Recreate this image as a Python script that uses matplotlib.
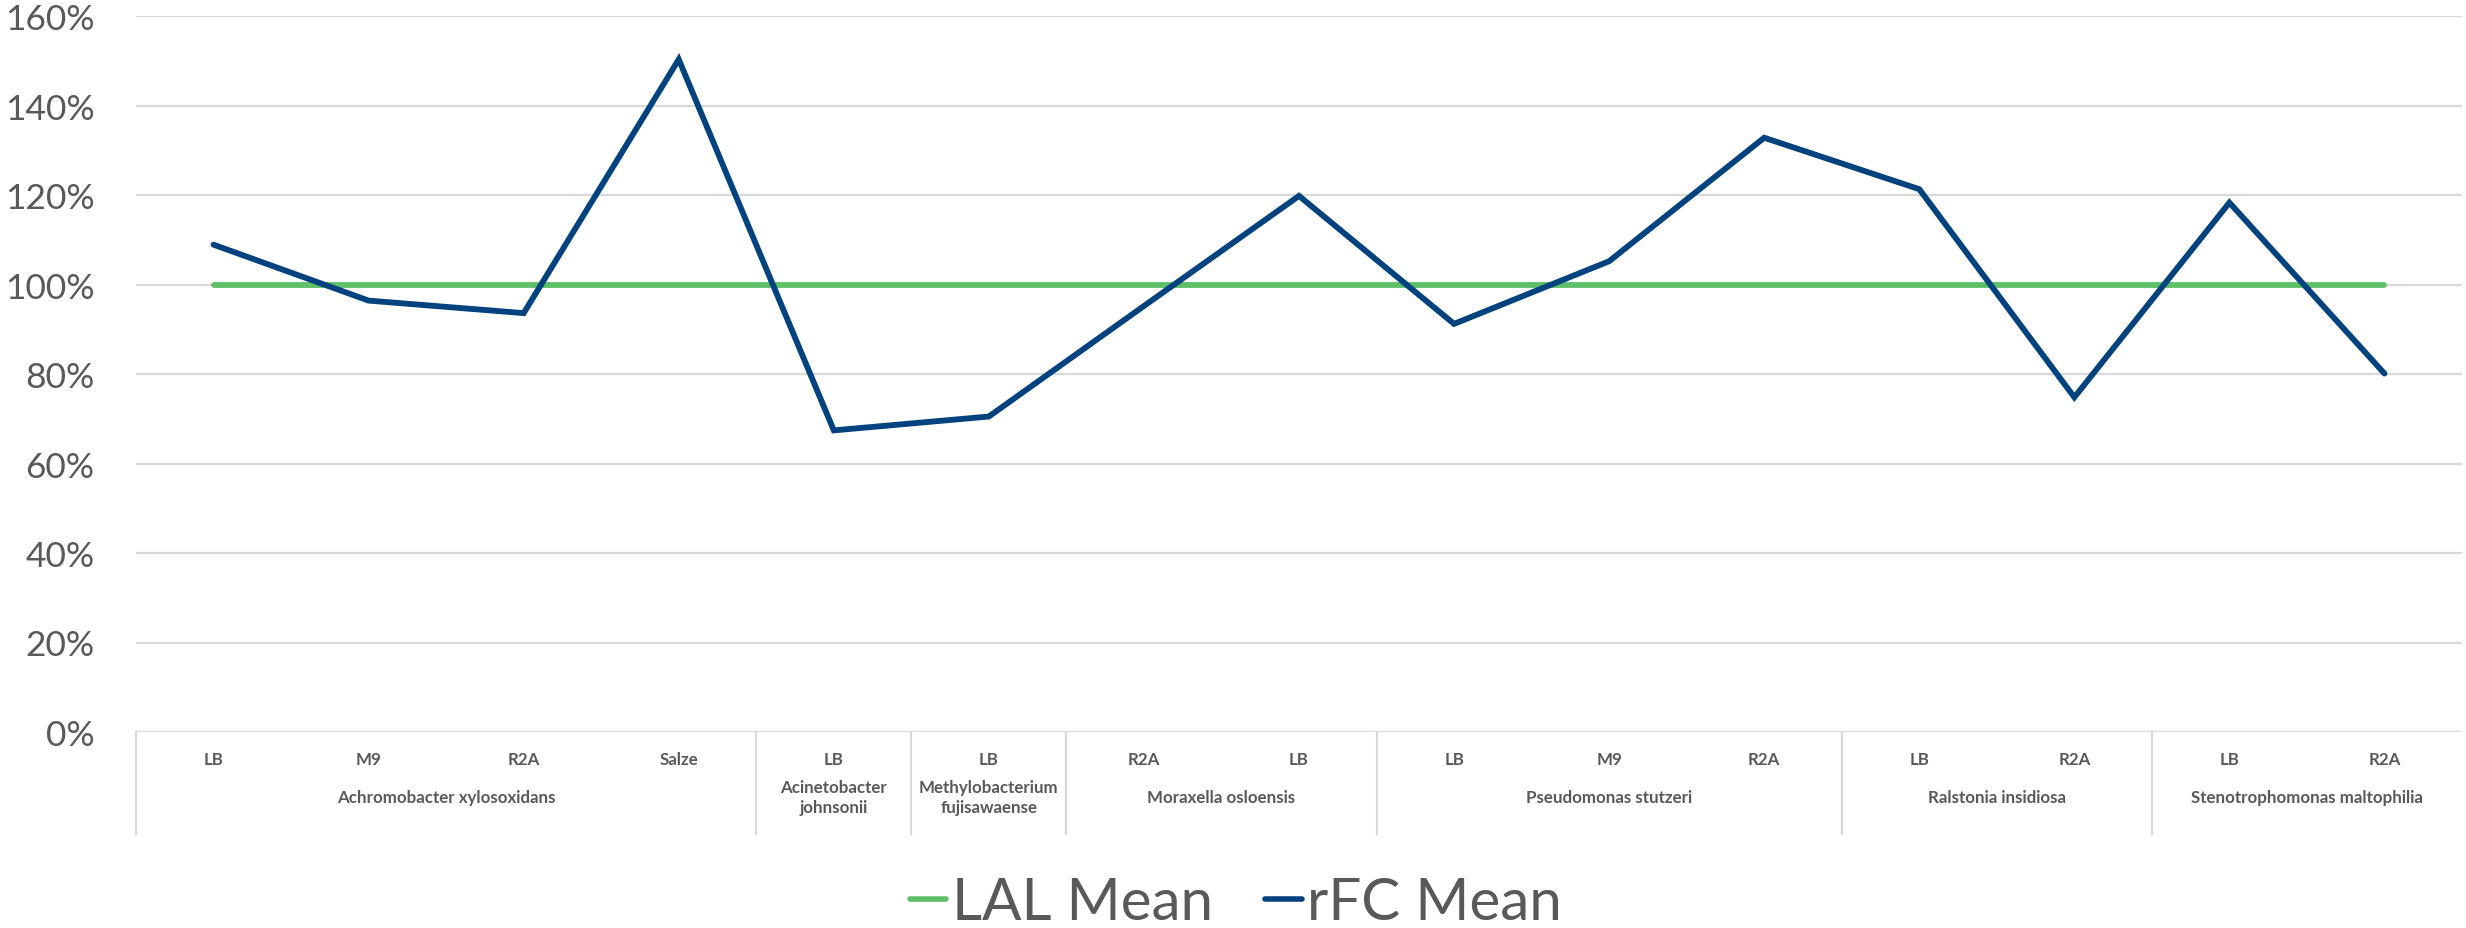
import numpy as np
import matplotlib
matplotlib.use("Agg")
import matplotlib.pyplot as plt
from matplotlib.ticker import PercentFormatter
import matplotlib.transforms as mtransforms

# data
groups = ["Achromobacter xylosoxidans", "Acinetobacter\njohnsonii",
          "Methylobacterium\nfujisawaense", "Moraxella osloensis",
          "Pseudomonas stutzeri", "Ralstonia insidiosa",
          "Stenotrophomonas maltophilia"]
group_media = [["LB", "M9", "R2A", "Salze"], ["LB"], ["LB"], ["R2A", "LB"],
               ["LB", "M9", "R2A"], ["LB", "R2A"], ["LB", "R2A"]]
lal_mean = [1.00] * 15
rfc_mean = [1.089, 0.964, 0.936, 1.503, 0.674, 0.705, 0.952, 1.198,
            0.912, 1.052, 1.328, 1.213, 0.748, 1.183, 0.801]

GREEN = "#5EBF69"
BLUE = "#02427F"
GRID = "#D9D9D9"
TXT = "#595959"
plt.rcParams['font.family'] = ['Lato', 'DejaVu Sans']

W, H = 2466, 929
fig = plt.figure(figsize=(W / 100, H / 100), dpi=100)
x0, x1, ytop, ybot = 136, 2462, 17, 733
ax = fig.add_axes([x0 / W, 1 - ybot / H, (x1 - x0) / W, (ybot - ytop) / H])

x = np.arange(len(rfc_mean))
ax.plot(x, lal_mean, color=GREEN, lw=4.2, solid_capstyle='round', zorder=3)
ax.plot(x, rfc_mean, color=BLUE, lw=4.2, solid_capstyle='round',
        solid_joinstyle='miter', zorder=4)

ax.set_xlim(-0.5, len(x) - 0.5)
ax.set_ylim(0, 1.6)
ax.set_yticks(np.arange(0, 1.61, 0.2))
ax.yaxis.set_major_formatter(PercentFormatter(1.0, decimals=0))
ax.grid(axis='y', color=GRID, lw=1.6, zorder=0)
ax.set_axisbelow(True)
for s in ax.spines.values():
    s.set_visible(False)
ax.tick_params(axis='y', length=0, labelsize=25.5, labelcolor=TXT, pad=30)
ax.tick_params(axis='x', length=0, labelbottom=False)

# two-level category axis
axh = ybot - ytop
def fy(py):
    return (ybot - py) / axh

trans = mtransforms.blended_transform_factory(ax.transData, ax.transAxes)
pos = 0
bounds = [-0.5]
for g, media in zip(groups, group_media):
    for i, m in enumerate(media):
        ax.text(pos + i, fy(760), m, transform=trans, ha='center', va='center',
                fontsize=12.2, fontweight='bold', color=TXT)
    ax.text(pos + (len(media) - 1) / 2, fy(798), g, transform=trans,
            ha='center', va='center', fontsize=12.2, fontweight='bold',
            color=TXT, linespacing=1.3)
    pos += len(media)
    bounds.append(pos - 0.5)
for b in bounds[:-1]:
    ax.plot([b, b], [0, fy(835)], transform=trans, color=GRID, lw=1.6,
            clip_on=False)

h1, = ax.plot([], [], color=GREEN, lw=4, solid_capstyle='round')
h2, = ax.plot([], [], color=BLUE, lw=4, solid_capstyle='round')
leg = fig.legend([h1, h2], ["LAL Mean", "rFC Mean"], loc='center',
                 bbox_to_anchor=(1236 / W, 1 - 904 / H), ncol=2,
                 frameon=False, fontsize=42, handlelength=0.62,
                 handletextpad=0.1, columnspacing=0.9)
for t in leg.get_texts():
    t.set_color(TXT)

fig.savefig("out.png", dpi=100)
